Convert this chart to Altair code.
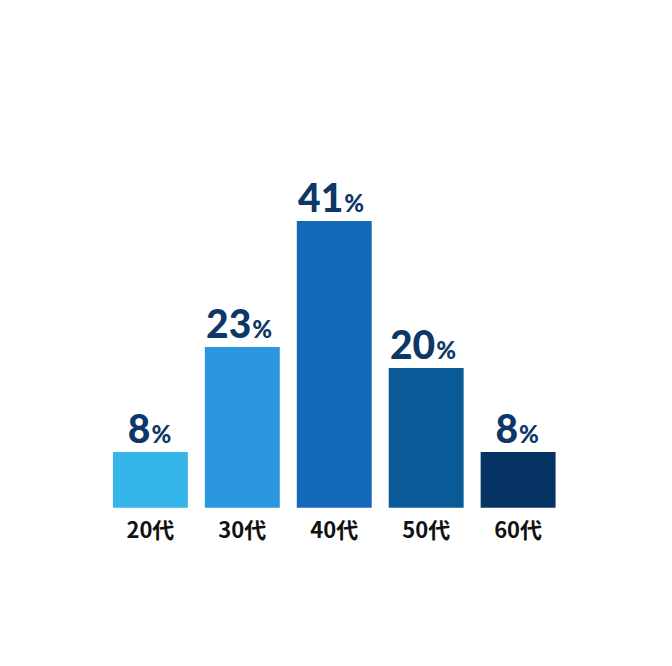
import altair as alt
import pandas as pd

categories = ["20代", "30代", "40代", "50代", "60代"]
values = [8, 23, 41, 20, 8]
colors = ["#35b5e8", "#2a96e0", "#1468b8", "#0b5a98", "#053363"]

df = pd.DataFrame({"cat": categories, "val": values})
df["num"] = df["val"].astype(str)
df["pct"] = "%"
df["digits"] = df["num"].str.len()

x = alt.X("cat:N", sort=categories,
          scale=alt.Scale(paddingInner=0.185, paddingOuter=0.0925),
          axis=alt.Axis(title=None, labelAngle=0, domain=False, ticks=False,
                        labelFont="Noto Sans CJK JP", labelFontWeight="bold",
                        labelFontSize=22, labelColor="#111111", labelPadding=13))
y = alt.Y("val:Q", scale=alt.Scale(domain=[0, 60]), axis=None)

base = alt.Chart(df)

bars = base.mark_bar().encode(
    x=x, y=y,
    color=alt.Color("cat:N", sort=categories,
                    scale=alt.Scale(domain=categories, range=colors), legend=None),
)

label_color = "#0d3766"

def num_layer(nd, dx):
    return base.transform_filter(alt.datum.digits == nd).mark_text(
        font="Lato", fontWeight=900, fontSize=39, color=label_color,
        align="right", baseline="alphabetic", dx=dx, dy=-9,
    ).encode(x=x, y=y, text="num:N")

def pct_layer(nd, dx):
    return base.transform_filter(alt.datum.digits == nd).mark_text(
        font="Lato", fontWeight=900, fontSize=24, color=label_color,
        align="left", baseline="alphabetic", dx=dx, dy=-9,
    ).encode(x=x, y=y, text="pct:N")

chart = alt.layer(
    bars,
    num_layer(1, 0), pct_layer(1, 1),
    num_layer(2, 9), pct_layer(2, 10),
).properties(
    width=460, height=420,
    autosize=alt.AutoSizeParams(type="none"),
    padding={"left": 96.5, "top": 80, "right": 100, "bottom": 150},
).configure_view(stroke=None)

chart.save("out.html", embed_options={"renderer": "svg", "actions": False})
